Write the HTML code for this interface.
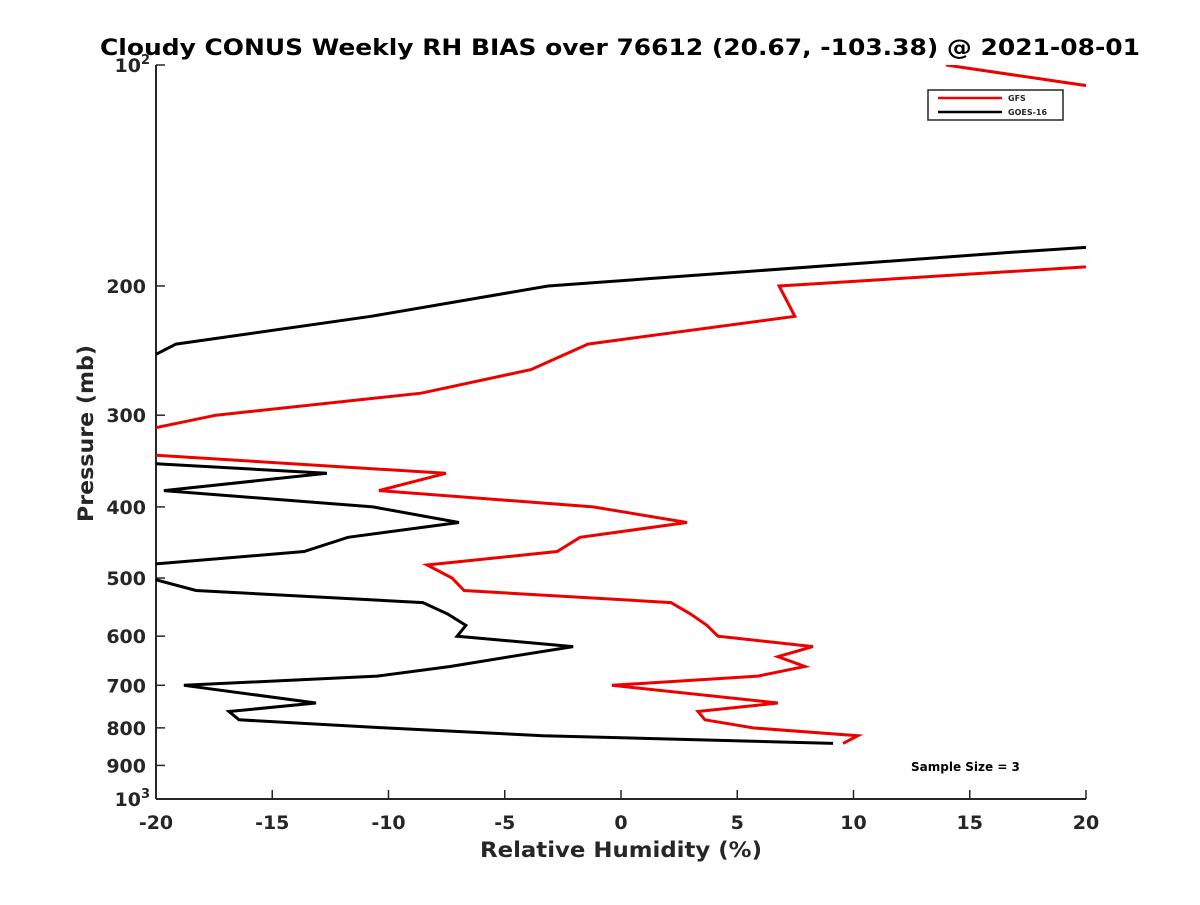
<!DOCTYPE html>
<html><head><meta charset="utf-8"><style>
body{margin:0;background:#fff}
svg text{font-family:"DejaVu Sans","Liberation Sans",sans-serif;font-weight:bold;fill:#262626}
</style></head><body>
<svg id="c" width="1200" height="900" viewBox="0 0 1200 900" xmlns="http://www.w3.org/2000/svg">
<rect width="1200" height="900" fill="#fff"/>
<defs><clipPath id="pa"><rect x="156" y="65" width="930" height="734"/></clipPath></defs>
<text x="100" y="55" textLength="1040" lengthAdjust="spacingAndGlyphs" font-size="22" style="fill:#000">Cloudy CONUS Weekly RH BIAS over 76612 (20.67, -103.38) @ 2021-08-01</text>
<g id="axes"></g>
<g id="series" clip-path="url(#pa)"></g>
<g>
<rect x="928" y="90" width="135" height="30" fill="#fff" stroke="#262626" stroke-width="1.5"/>
<line x1="938" y1="98" x2="1002" y2="98" stroke="#e00" stroke-width="2.5"/>
<text x="1008" y="101" font-size="8">GFS</text>
<line x1="938" y1="112" x2="1002" y2="112" stroke="#000" stroke-width="2.5"/>
<text x="1008" y="115" font-size="8">GOES-16</text>
</g>
<text x="911" y="771" font-size="12" style="fill:#000">Sample Size = 3</text>
<text x="480" y="857" textLength="282" lengthAdjust="spacingAndGlyphs" font-size="21">Relative Humidity (%)</text>
<text transform="translate(93,522) rotate(-90)" textLength="177" lengthAdjust="spacingAndGlyphs" font-size="21">Pressure (mb)</text>
</svg>
<script>
const xTicks=[-20,-15,-10,-5,0,5,10,15,20];
const yTicks=[100,200,300,400,500,600,700,800,900,1000];
const gfsP=[100,120,140,160,180,200,220,240,260,280,300,320,340,360,380,400,420,440,460,480,500,520,540,560,580,600,620,640,660,680,700,740,760,780,800,820,840];
const gfsRH=[13.98,31,35,35,30,6.8,7.48,-1.42,-3.87,-8.6,-17.42,-21.7,-20.1,-7.53,-10.41,-1.2,2.84,-1.76,-2.75,-8.34,-7.27,-6.75,2.15,3.0,3.7,4.17,8.26,6.75,7.91,5.89,-0.39,6.75,3.31,3.61,5.68,10.19,9.55];
const goesP=[100,120,140,160,180,200,220,240,260,280,300,320,340,360,380,400,420,440,460,480,500,520,540,560,580,600,620,640,660,680,700,740,760,780,800,820,840];
const goesRH=[45,45,45,41,16.73,-3.14,-10.75,-19.14,-21.3,-25,-25,-25,-26.6,-12.65,-19.66,-10.67,-6.97,-11.74,-13.63,-20.56,-20.3,-18.28,-8.52,-7.44,-6.67,-7.05,-2.06,-4.77,-7.35,-10.49,-18.8,-13.12,-16.86,-16.43,-10.15,-3.35,9.12];
const NS='http://www.w3.org/2000/svg';
const X=v=>156+(v+20)*930/40;
const Y=p=>65+734*(Math.log10(p)-2);
function mk(t,a,par){const e=document.createElementNS(NS,t);for(const k in a)e.setAttribute(k,a[k]);par.appendChild(e);return e;}
const ax=document.getElementById('axes');
const yl=mk('line',{x1:156,y1:65,x2:156,y2:799,stroke:'#262626','stroke-width':2},ax);


const xl=mk('line',{x1:156,y1:799,x2:1086,y2:799,stroke:'#262626','stroke-width':2},ax);


xTicks.forEach(v=>{
 const t=mk('line',{x1:X(v),y1:799,x2:X(v),y2:790,stroke:'#262626','stroke-width':1.5},ax);
 
 
 const l=mk('text',{x:X(v),y:829,'text-anchor':'middle','font-size':19},ax);
 l.textContent=v;
 
 
});
yTicks.forEach(p=>{
 const t=mk('line',{x1:156,y1:Y(p),x2:165,y2:Y(p),stroke:'#262626','stroke-width':1.5},ax);
 
 
 const l=mk('text',{x:146,y:Y(p)+7,'text-anchor':'end','font-size':19},ax);
 if(p===100||p===1000){l.textContent='10';const s=document.createElementNS(NS,'tspan');s.setAttribute('dy','-8');s.setAttribute('font-size','13');s.textContent=p===100?'2':'3';l.appendChild(s);l.setAttribute('x',150);}
 else l.textContent=p;
 
 
});
const sg=document.getElementById('series');
function line(P,R,col,name){
 const pts=P.map((p,i)=>X(R[i]).toFixed(1)+','+Y(p).toFixed(1)).join(' ');
 const e=mk('polyline',{points:pts,fill:'none',stroke:col,'stroke-width':3,'stroke-linejoin':'miter'},sg);
 
 
}
line(goesP,goesRH,'#000','goes-16-line');
line(gfsP,gfsRH,'#e00','gfs-line');
</script>
</body></html>
